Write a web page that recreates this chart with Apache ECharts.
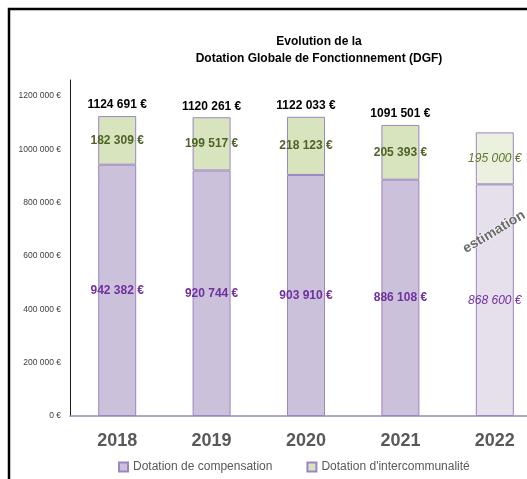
<!DOCTYPE html>
<html>
<head>
<meta charset="utf-8">
<script src="https://cdn.jsdelivr.net/npm/echarts@6/dist/echarts.min.js"></script>
<style>
  html, body { margin: 0; padding: 0; background: #fff; }
  #dgf { width: 527px; height: 479px; }
</style>
</head>
<body>
<div id="dgf"></div>
<script>
    // donnees DGF
    var years        = ['2018', '2019', '2020', '2021', '2022'];
    var compensation = [942382, 920744, 903910, 886108, 868600];
    var intercommun  = [182309, 199517, 218123, 205393, 195000];
    var totals       = [1124691, 1120261, 1122033, 1091501, null];
    var estimated    = [false, false, false, false, true];

    var FONT = '"Liberation Sans", Arial, sans-serif';

    // 1124691 -> "1124 691 €"
    function euro(v) {
        if (v < 1000) return v + ' €';
        var k = Math.floor(v / 1000), r = v % 1000;
        return k + ' ' + String(r).padStart(3, '0') + ' €';
    }

    function items(values, lightColor, labelColor) {
        return values.map(function (v, i) {
            if (!estimated[i]) return v;
            return {
                value: v,
                itemStyle: {color: lightColor},
                label: {fontStyle: 'italic', fontWeight: 'normal', color: labelColor}
            };
        });
    }

    var dgfChart = echarts.init(document.getElementById('dgf'));

    var dgfOption = {
        animation: false,
        title: {
            text: 'Evolution de la\nDotation Globale de Fonctionnement (DGF)',
            left: 314,
            top: 28,
            textAlign: 'center',
            textStyle: {
                fontFamily: FONT,
                fontSize: 12,
                fontWeight: 'bold',
                lineHeight: 17,
                color: '#000'
            }
        },
        legend: {
            data: ['Dotation de compensation', "Dotation d'intercommunalité"],
            left: 113,
            top: 456,
            icon: 'rect',
            itemWidth: 9,
            itemHeight: 9,
            itemGap: 34,
            textStyle: {
                fontFamily: FONT,
                fontSize: 12,
                color: '#595959'
            }
        },
        grid: {
            left: 70,
            top: 80,
            width: 472,
            height: 336,
            outerBoundsMode: 'none'
        },
        xAxis: {
            type: 'category',
            data: years,
            axisTick: {show: false},
            axisLine: {lineStyle: {color: '#9b86c0', width: 1.5}},
            axisLabel: {
                margin: 16,
                fontFamily: FONT,
                fontSize: 18,
                fontWeight: 'bold',
                color: '#595959'
            }
        },
        yAxis: {
            type: 'value',
            min: 0,
            max: 1260000,
            interval: 200000,
            splitLine: {show: false},
            axisLine: {show: true, lineStyle: {color: '#1a1a1a', width: 1}},
            axisLabel: {
                showMaxLabel: false,
                margin: 9,
                fontFamily: FONT,
                fontSize: 8.5,
                color: '#404040',
                formatter: euro
            }
        },
        graphic: [
            {
                type: 'rect',
                shape: {x: 9, y: 9, width: 700, height: 700},
                style: {fill: 'none', stroke: '#000', lineWidth: 2.5},
                silent: true
            },
            {
                type: 'text',
                x: 494,
                y: 232,
                rotation: 31 * Math.PI / 180,
                style: {
                    text: 'estimation',
                    align: 'center',
                    verticalAlign: 'middle',
                    font: 'bold 14px ' + FONT,
                    fill: '#6b6b6b',
                    stroke: '#ffffff',
                    lineWidth: 1,
                    shadowColor: 'rgba(0,0,0,0.45)',
                    shadowBlur: 2,
                    shadowOffsetX: 1,
                    shadowOffsetY: 1
                },
                z: 10
            }
        ],
        series: [
            {
                name: 'Dotation de compensation',
                type: 'bar',
                stack: 'dgf',
                barWidth: 38,
                itemStyle: {color: '#ccc1da', borderColor: '#9b86c0', borderWidth: 1},
                label: {
                    show: true,
                    position: 'inside',
                    fontFamily: FONT,
                    fontSize: 12,
                    fontWeight: 'bold',
                    color: '#7030a0',
                    formatter: function (p) { return euro(p.value); }
                },
                data: items(compensation, '#e6e0ec', '#7030a0')
            },
            {
                name: "Dotation d'intercommunalité",
                type: 'bar',
                stack: 'dgf',
                barWidth: 38,
                itemStyle: {color: '#d7e4bd', borderColor: '#9b86c0', borderWidth: 1},
                label: {
                    show: true,
                    position: 'inside',
                    fontFamily: FONT,
                    fontSize: 12,
                    fontWeight: 'bold',
                    color: '#4f6228',
                    formatter: function (p) { return euro(p.value); }
                },
                data: items(intercommun, '#ebf1de', '#5f7530')
            },
            {
                // porte seulement les totaux au-dessus des barres
                name: 'Total',
                type: 'bar',
                stack: 'dgf',
                barWidth: 38,
                silent: true,
                itemStyle: {color: 'rgba(0,0,0,0)', borderWidth: 0},
                label: {
                    show: true,
                    position: 'top',
                    distance: 5,
                    fontFamily: FONT,
                    fontSize: 12,
                    fontWeight: 'bold',
                    color: '#000',
                    formatter: function (p) {
                        var t = totals[p.dataIndex];
                        return t == null ? '' : euro(t);
                    }
                },
                data: years.map(function () { return 0; })
            }
        ]
    };

    dgfChart.setOption(dgfOption);
</script>
</body>
</html>
